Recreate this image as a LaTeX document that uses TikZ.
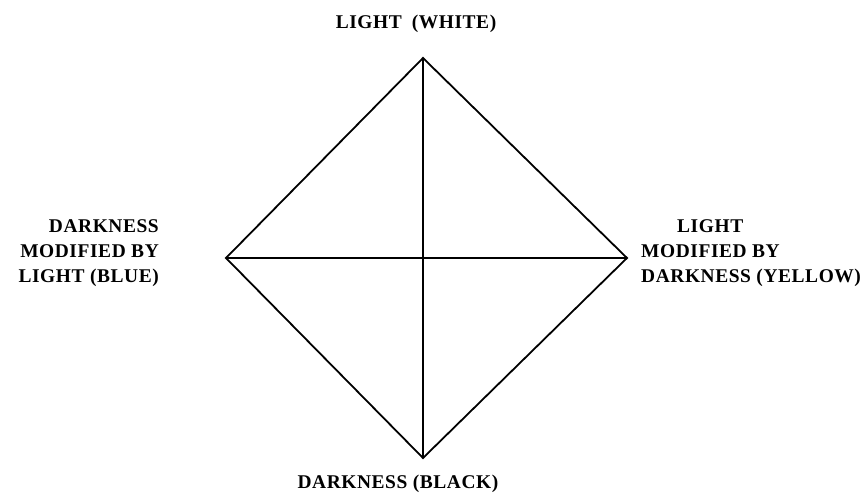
\documentclass[tikz,border=0pt]{standalone}
\usepackage{fontspec}
\setmainfont{Liberation Serif}
\begin{document}
\begin{tikzpicture}[x=1bp,y=-1bp,
  lbl/.style={inner sep=0pt,font=\fontsize{19.5}{25}\selectfont\bfseries\addfontfeature{LetterSpace=3}},
  edge/.style={line width=1.8pt,line join=miter}]
\useasboundingbox (0,0) rectangle (864,494);
\coordinate (T) at (423,58);
\coordinate (B) at (423,458);
\coordinate (L) at (226,258);
\coordinate (R) at (627,258);
\draw[edge] (T) -- (R) -- (B) -- (L) -- cycle;
\draw[edge] (T) -- (B);
\draw[edge] (L) -- (R);
\node[lbl] (top) at (416,24) {LIGHT\hspace{10bp}(WHITE)};
\node[lbl] (bot) at (398,484) {DARKNESS (BLACK)};
\node[lbl,align=right,anchor=east] (left) at (159,253) {DARKNESS\\MODIFIED BY\\LIGHT (BLUE)};
\node[lbl,align=left,anchor=west] (right) at (641,253) {\hspace*{36bp}LIGHT\\MODIFIED BY\\DARKNESS (YELLOW)};
\end{tikzpicture}
\end{document}
